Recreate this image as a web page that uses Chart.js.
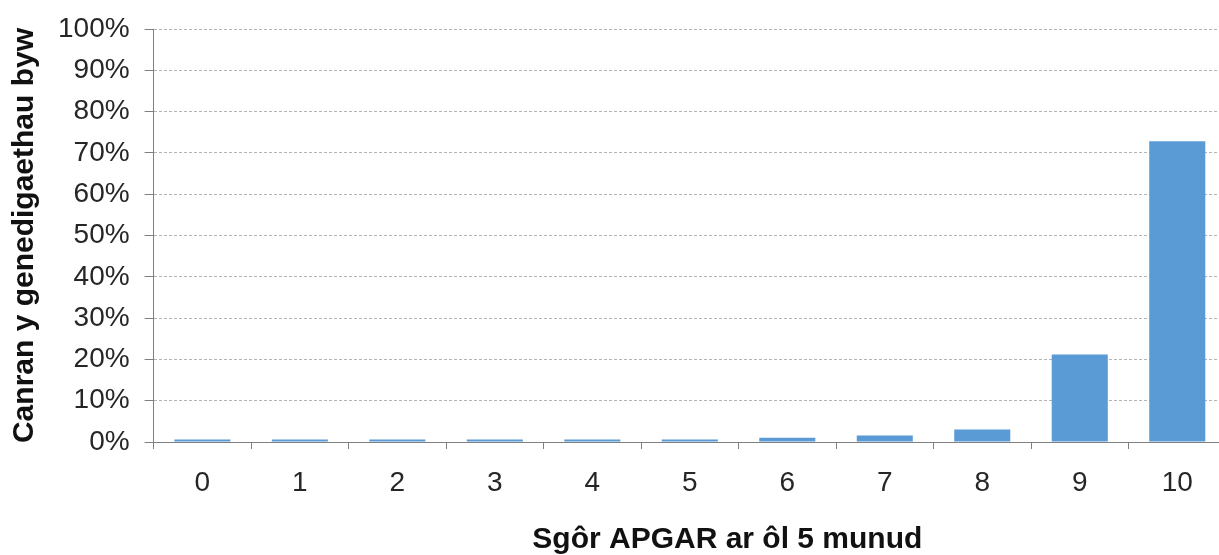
<!DOCTYPE html>
<html>
<head>
<meta charset="utf-8">
<script src="https://cdn.jsdelivr.net/npm/chart.js@4/dist/chart.umd.min.js"></script>
<style>
  html, body { margin: 0; padding: 0; background: #fff; overflow: hidden; }
  #wrap { width: 1226px; height: 555px; }
</style>
</head>
<body>
<div id="wrap"><canvas id="apgar"></canvas></div>
<script>
// Sgôr APGAR ar ôl 5 munud
const scores = ['0', '1', '2', '3', '4', '5', '6', '7', '8', '9', '10'];
const percentBirths = [0.6, 0.6, 0.6, 0.6, 0.6, 0.6, 1.0, 1.6, 3.0, 21.2, 72.8];
const yTicks = [0, 10, 20, 30, 40, 50, 60, 70, 80, 90, 100];

const xTitle = 'Sgôr APGAR ar ôl 5 munud';
const yTitle = 'Canran y genedigaethau byw';

const ctx = document.getElementById('apgar').getContext('2d');
new Chart(ctx, {
  type: 'bar',
  data: {
    labels: scores,
    datasets: [{
      data: percentBirths,
      backgroundColor: '#5B9BD5',
      borderWidth: 0,
      barPercentage: 0.575,
      categoryPercentage: 1
    }]
  },
  options: {
    responsive: true,
    maintainAspectRatio: false,
    animation: false,
    layout: { padding: { top: 25, left: 0, right: 0, bottom: 0 } },
    plugins: { legend: { display: false }, tooltip: { enabled: false } },
    scales: {
      x: {
        offset: true,
        grid: { display: true, offset: true, drawOnChartArea: false, tickLength: 7, color: '#7f7f7f' },
        border: { color: '#7f7f7f', width: 1 },
        ticks: { color: '#262626', padding: 20, font: { family: 'Liberation Sans, Arial, sans-serif', size: 28, lineHeight: 1 } },
        title: {
          display: true,
          text: '\u00a0'.repeat(9) + xTitle,
          color: '#111',
          padding: { top: 8, bottom: 0 },
          font: { family: 'Liberation Sans, Arial, sans-serif', size: 30, weight: 'bold', lineHeight: 1 }
        }
      },
      y: {
        min: 0,
        max: 100,
        afterBuildTicks: (scale) => { scale.ticks = yTicks.map(v => ({ value: v })); },
        grid: { color: '#b4b4b4', tickColor: '#7f7f7f', tickLength: 9, tickBorderDash: [] },
        border: { color: '#7f7f7f', width: 1, dash: [3, 2] },
        ticks: {
          color: '#262626',
          padding: 15,
          font: { family: 'Liberation Sans, Arial, sans-serif', size: 28, lineHeight: 1 },
          callback: (v) => v + '%'
        },
        title: {
          display: true,
          text: yTitle,
          color: '#111',
          padding: { top: 10, bottom: 3 },
          font: { family: 'Liberation Sans, Arial, sans-serif', size: 30, weight: 'bold', lineHeight: 1 }
        }
      }
    }
  }
});
</script>
</body>
</html>
